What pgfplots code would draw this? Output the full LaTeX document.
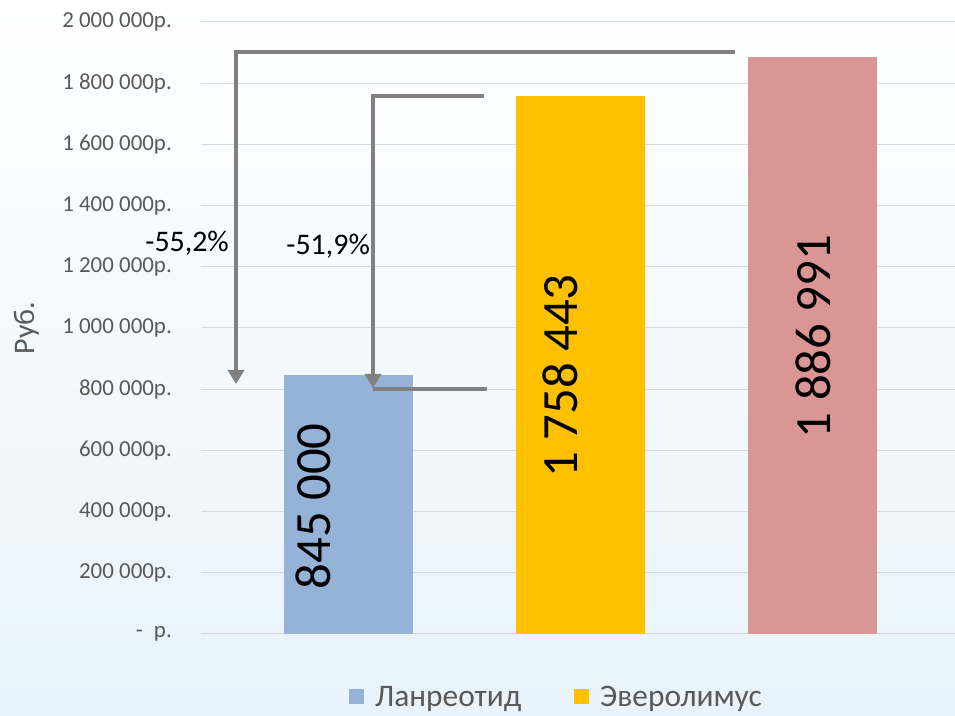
\documentclass[border=0pt]{standalone}
\usepackage{fontspec}
\setmainfont{Carlito}
\usepackage{pgfplots}
\pgfplotsset{compat=1.18}
\usetikzlibrary{arrows.meta}
\definecolor{barblue}{RGB}{149,179,215}
\definecolor{baryellow}{RGB}{255,192,0}
\definecolor{barpink}{RGB}{218,150,148}
\definecolor{gridgray}{RGB}{217,217,217}
\definecolor{txtgray}{RGB}{89,89,89}
\definecolor{arrowgray}{RGB}{128,128,128}
\definecolor{bgblue}{RGB}{232,243,251}
\begin{document}
\begin{tikzpicture}
\shade[top color=white, bottom color=bgblue] (0,0) rectangle (955bp,716bp);
\node[rotate=90, text=txtgray, font=\fontsize{30}{30}\selectfont] at (26.5bp,388bp) {Руб.};
\begin{axis}[
  at={(201bp,82bp)}, anchor=south west,
  scale only axis, width=754bp, height=612bp,
  xmin=-0.636, xmax=2.614, ymin=0, ymax=2000000,
  clip=false,
  scaled y ticks=false,
  axis line style={draw=none},
  tick style={draw=none},
  xtick=\empty,
  ytick={0,200000,400000,600000,800000,1000000,1200000,1400000,1600000,1800000,2000000},
  yticklabels={{-\hspace{11bp}р.},{200 000р.},{400 000р.},{600 000р.},{800 000р.},{1 000 000р.},{1 200 000р.},{1 400 000р.},{1 600 000р.},{1 800 000р.},{2 000 000р.}},
  yticklabel style={text=txtgray, font=\fontsize{23}{23}\selectfont, anchor=east, inner sep=0pt, xshift=-29bp},
  ymajorgrids, grid style={gridgray, line width=1bp},
  legend image code/.code={\fill[#1, draw=none] (0bp,-7.5bp) rectangle (15bp,7.5bp);},
  legend style={at={(0.1963,-0.1025)}, anchor=west, draw=none, fill=none, inner sep=0pt,
    legend columns=-1, font=\fontsize{31.5}{31.5}\selectfont, text=txtgray,
    nodes={inner sep=0pt, anchor=west},
    /tikz/every odd column/.append style={column sep=11bp},
    /tikz/every even column/.append style={column sep=53bp}},
]
\addplot[ybar, bar shift=0pt, bar width=0.556, fill=barblue, draw=none] coordinates {(0,845000)};
\addlegendentry{Ланреотид}
\addplot[ybar, bar shift=0pt, bar width=0.556, fill=baryellow, draw=none] coordinates {(1,1758443)};
\addlegendentry{Эверолимус}
\addplot[ybar, bar shift=0pt, bar width=0.556, fill=barpink, draw=none, forget plot] coordinates {(2,1886991)};
\node[rotate=90, font=\fontsize{51}{51}\selectfont] at (axis cs:-0.153,416667) {845 000};
\node[rotate=90, font=\fontsize{51}{51}\selectfont] at (axis cs:0.912,843137) {1 758 443};
\node[rotate=90, font=\fontsize{51}{51}\selectfont] at (axis cs:2.002,972222) {1 886 991};
\draw[arrowgray, line width=4bp, miter limit=10, -{Triangle[width=16bp,length=14bp]}]
  (axis cs:1.666,1901961) -- (axis cs:-0.485,1901961) -- (axis cs:-0.485,816993);
\draw[arrowgray, line width=4bp, -{Triangle[width=16bp,length=14bp]}]
  (axis cs:0.584,1758170) -- (axis cs:0.1056,1758170) -- (axis cs:0.1056,803922);
\draw[arrowgray, line width=4bp] (axis cs:0.1056,800654) -- (axis cs:0.597,800654);
\node[font=\fontsize{30}{30}\selectfont] at (axis cs:-0.696,1277778) {-55,2\%};
\node[font=\fontsize{30}{30}\selectfont] at (axis cs:-0.088,1266340) {-51,9\%};
\end{axis}
\pgfresetboundingbox
\path[use as bounding box] (0,0) rectangle (955bp,716bp);
\end{tikzpicture}
\end{document}
